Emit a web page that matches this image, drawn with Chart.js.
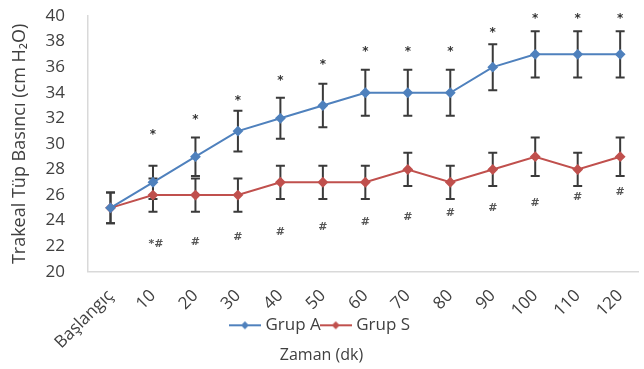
<!DOCTYPE html>
<html>
<head>
<meta charset="utf-8">
<script src="https://cdn.jsdelivr.net/npm/chart.js@4.4.0/dist/chart.umd.min.js"></script>
<style>
  html, body { margin: 0; padding: 0; background: #fff; }
</style>
</head>
<body>
<canvas id="chart" width="644" height="369"></canvas>
<script>
const labels = ['Başlangıç', '10', '20', '30', '40', '50', '60', '70', '80', '90', '100', '110', '120'];

const grupA    = [25, 27, 29, 31, 32, 33, 34, 34, 34, 36, 37, 37, 37];
const grupAErr = [1.2, 1.3, 1.5, 1.6, 1.6, 1.7, 1.8, 1.8, 1.8, 1.8, 1.8, 1.8, 1.8];
const grupS    = [25, 26, 26, 26, 27, 27, 27, 28, 27, 28, 29, 28, 29];
const grupSErr = [1.2, 1.3, 1.3, 1.3, 1.3, 1.3, 1.3, 1.3, 1.3, 1.3, 1.5, 1.3, 1.5];

// significance marks
const starY    = [null, 30.7, 31.9, 33.4, 34.9, 36.2, 37.2, 37.2, 37.2, 38.7, 39.8, 39.8, 39.8];
const hashY    = [null, 22.2, 22.3, 22.7, 23.1, 23.5, 23.9, 24.3, 24.6, 25.0, 25.4, 25.8, 26.2];
const hashText = [null, '*#', '#', '#', '#', '#', '#', '#', '#', '#', '#', '#', '#'];

const blue = '#4f81bd';
const red = '#c0504d';
const textColor = '#404040';

Chart.defaults.font.family = "'Open Sans', sans-serif";
Chart.defaults.color = textColor;

function legendIcon(color) {
    const c = document.createElement('canvas');
    c.width = 32; c.height = 10;
    const g = c.getContext('2d');
    g.strokeStyle = color; g.lineWidth = 2;
    g.beginPath(); g.moveTo(0, 5); g.lineTo(32, 5); g.stroke();
    g.fillStyle = color;
    g.beginPath(); g.moveTo(16, 1); g.lineTo(20, 5); g.lineTo(16, 9); g.lineTo(12, 5); g.closePath(); g.fill();
    return c;
}

const errorBars = {
    id: 'errorBars',
    beforeDraw(chart) {
        // let the rotated x labels spill below the axis box instead of being clipped
        chart.scales.x._computeLabelArea = () => undefined;
    },
    beforeDatasetsDraw(chart) {
        const { ctx, scales: { x, y } } = chart;
        ctx.save();
        ctx.strokeStyle = '#3a3a3a';
        ctx.lineWidth = 2;
        [[grupA, grupAErr], [grupS, grupSErr]].forEach(([vals, errs]) => {
            vals.forEach((v, i) => {
                const px = x.getPixelForValue(i);
                const top = y.getPixelForValue(v + errs[i]);
                const bot = y.getPixelForValue(v - errs[i]);
                ctx.beginPath();
                ctx.moveTo(px, top); ctx.lineTo(px, bot);
                ctx.moveTo(px - 4.5, top); ctx.lineTo(px + 4.5, top);
                ctx.moveTo(px - 4.5, bot); ctx.lineTo(px + 4.5, bot);
                ctx.stroke();
            });
        });
        ctx.restore();
    }
};

const marks = {
    id: 'marks',
    afterDatasetsDraw(chart) {
        const { ctx, scales: { x, y } } = chart;
        ctx.save();
        ctx.textAlign = 'center';
        ctx.textBaseline = 'middle';
        ctx.fillStyle = '#333';
        ctx.font = "bold 12px 'DejaVu Sans'";
        starY.forEach((v, i) => {
            if (v == null) return;
            ctx.fillText('*', x.getPixelForValue(i), y.getPixelForValue(v));
        });
        ctx.fillStyle = '#555';
        ctx.font = "bold 11px 'DejaVu Sans'";
        hashY.forEach((v, i) => {
            if (v == null) return;
            ctx.fillText(hashText[i], x.getPixelForValue(i) + (hashText[i].length > 1 ? 3 : 0), y.getPixelForValue(v));
        });
        ctx.restore();
    }
};

new Chart(document.getElementById('chart'), {
    type: 'line',
    data: {
        datasets: [
            {
                label: 'Grup A',
                data: grupA.map((v, i) => ({ x: i, y: v })),
                borderColor: blue,
                backgroundColor: blue,
                borderWidth: 2,
                pointStyle: 'rectRot',
                pointRadius: 4,
                tension: 0,
            },
            {
                label: 'Grup S',
                data: grupS.map((v, i) => ({ x: i, y: v })),
                borderColor: red,
                backgroundColor: red,
                borderWidth: 2,
                pointStyle: 'rectRot',
                pointRadius: 4,
                tension: 0,
            },
        ],
    },
    options: {
        responsive: false,
        animation: false,
        devicePixelRatio: 1,
        layout: { padding: { top: 16, right: 1, left: 0, bottom: 0 } },
        scales: {
            x: {
                type: 'linear',
                min: -0.53,
                max: 12.42,
                grid: { display: false },
                border: { color: '#d9d9d9', width: 1.5 },
                ticks: {
                    stepSize: 1,
                    includeBounds: false,
                    autoSkip: false,
                    maxRotation: 45,
                    minRotation: 45,
                    padding: 6,
                    font: { size: 17 },
                    callback: (v) => labels[v] ?? '',
                },
                afterFit: (s) => { s.height = 42; s.paddingLeft = 0; s.paddingRight = 0; },
            },
            y: {
                min: 20,
                max: 40,
                grid: { display: false },
                border: { color: '#d9d9d9', width: 1.5 },
                ticks: { stepSize: 2, padding: 15, font: { size: 17 } },
                title: {
                    display: true,
                    text: 'Trakeal Tüp Basıncı (cm H₂O)',
                    font: { size: 18 },
                    padding: { top: 9, bottom: 0 },
                },
                afterFit: (s) => { s.width = 88; s.paddingTop = 0; s.paddingBottom = 0; },
            },
        },
        plugins: {
            legend: {
                position: 'bottom',
                labels: {
                    usePointStyle: true,
                    pointStyleWidth: 24,
                    padding: 3,
                    font: { size: 17 },
                    generateLabels: (chart) => chart.data.datasets.map((ds, i) => ({
                        text: ds.label,
                        datasetIndex: i,
                        pointStyle: legendIcon(ds.borderColor),
                        fillStyle: ds.borderColor,
                        strokeStyle: ds.borderColor,
                        lineWidth: 0,
                        fontColor: textColor,
                        hidden: false,
                    })),
                },
            },
            title: {
                display: true,
                position: 'bottom',
                text: 'Zaman (dk)',
                font: { size: 16, weight: 'normal' },
                color: textColor,
                padding: { top: 2, bottom: 4 },
            },
            tooltip: { enabled: false },
        },
    },
    plugins: [errorBars, marks],
});
</script>
</body>
</html>
